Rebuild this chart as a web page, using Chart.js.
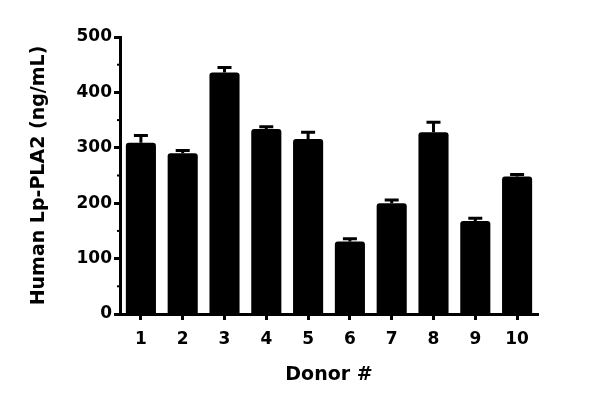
<!DOCTYPE html>
<html>
<head>
<meta charset="utf-8">
<script src="https://cdn.jsdelivr.net/npm/chart.js@4"></script>
<style>
  html, body { margin: 0; padding: 0; background: #fff; }
  #wrap { width: 600px; height: 408px; }
</style>
</head>
<body>
<div id="wrap"><canvas id="chart"></canvas></div>
<script>
// donor categories and measured values
const donors = ['1', '2', '3', '4', '5', '6', '7', '8', '9', '10'];
const means = [309, 290, 436, 334, 316, 131, 200, 328, 168, 248];
const errors = [13, 5, 9, 4, 12, 5, 6, 18, 5, 4];
const yTicks = [0, 100, 200, 300, 400, 500];
const minorTicks = [50, 150, 250, 350, 450];

const FONT = '"DejaVu Sans", sans-serif';

// error bars (upper only) + short minor ticks
const errorBarPlugin = {
  id: 'errorBars',
  afterDatasetsDraw(chart) {
    const ctx = chart.ctx;
    const x = chart.scales.x;
    const y = chart.scales.y;
    ctx.save();
    ctx.strokeStyle = '#000';
    ctx.lineWidth = 3;
    ctx.lineCap = 'butt';
    means.forEach((m, i) => {
      const cx = x.getPixelForValue(i);
      const yTop = y.getPixelForValue(m + errors[i]);
      const yMean = y.getPixelForValue(m);
      ctx.beginPath();
      ctx.moveTo(cx, yMean);
      ctx.lineTo(cx, yTop);
      ctx.moveTo(cx - 7, yTop);
      ctx.lineTo(cx + 7, yTop);
      ctx.stroke();
    });
    ctx.lineWidth = 2;
    minorTicks.forEach(v => {
      const py = y.getPixelForValue(v);
      ctx.beginPath();
      ctx.moveTo(y.right - 3, py);
      ctx.lineTo(y.right + 1, py);
      ctx.stroke();
    });
    ctx.restore();
  }
};

new Chart(document.getElementById('chart'), {
  type: 'bar',
  data: {
    labels: donors,
    datasets: [{
      data: means,
      backgroundColor: '#000',
      borderColor: '#000',
      borderRadius: 3,
      borderSkipped: 'bottom',
      barPercentage: 0.72,
      categoryPercentage: 1.0
    }]
  },
  options: {
    responsive: true,
    maintainAspectRatio: false,
    animation: false,
    layout: { padding: { top: 37, right: 62, left: 24, bottom: 18 } },
    plugins: {
      legend: { display: false },
      tooltip: { enabled: false }
    },
    scales: {
      x: {
        grid: { display: true, drawOnChartArea: false, offset: false, tickLength: 6, tickWidth: 3, tickColor: '#000' },
        border: { color: '#000', width: 3 },
        ticks: { color: '#000', padding: 9, maxRotation: 0, font: { family: FONT, size: 17, weight: 'bold' } },
        title: { display: true, text: 'Donor #', color: '#000', padding: { top: 12 }, font: { family: FONT, size: 19, weight: 'bold' } },
        afterFit(scale) { scale.height = 76; }
      },
      y: {
        min: 0,
        max: 500,
        afterBuildTicks(scale) { scale.ticks = yTicks.map(v => ({ value: v })); },
        grid: { display: true, drawOnChartArea: false, tickLength: 6, tickWidth: 3, tickColor: '#000' },
        border: { color: '#000', width: 3 },
        ticks: { color: '#000', padding: 2, font: { family: FONT, size: 17, weight: 'bold' } },
        title: { display: true, text: 'Human Lp-PLA2 (ng/mL)', color: '#000', padding: { bottom: 14 }, font: { family: FONT, size: 19, weight: 'bold' } },
        afterFit(scale) { scale.width = 96; }
      }
    }
  },
  plugins: [errorBarPlugin]
});
</script>
</body>
</html>
